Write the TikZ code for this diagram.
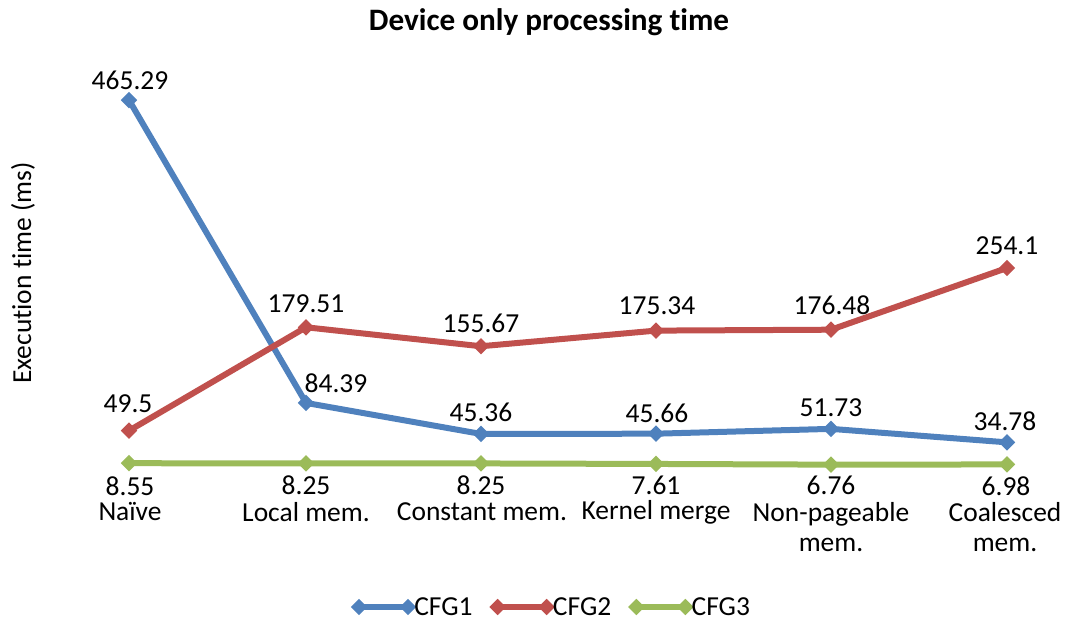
\documentclass[tikz,border=0pt]{standalone}
\usepackage{fontspec}
\setmainfont[RawFeature={-liga}]{Carlito}
\usetikzlibrary{shapes.geometric}
\definecolor{cfgblue}{HTML}{4F81BD}
\definecolor{cfgred}{HTML}{C0504D}
\definecolor{cfggreen}{HTML}{9BBB59}
\tikzset{
  series/.style={line width=4.5pt, line join=round},
  mk/.style={diamond, aspect=1, inner sep=0pt, minimum width=12.5pt, minimum height=12.5pt, fill=#1},
  lbl/.style={font=\fontsize{20.6}{22.5}\selectfont, inner sep=0pt, text=black},
  ttl/.style={font=\fontsize{23.4}{26}\selectfont\bfseries, inner sep=0pt},
}
% value -> vertical pixel position of the plot area
\newcommand{\vy}[1]{470-0.795*#1}
\begin{document}
\begin{tikzpicture}[x=0.75pt,y=-0.75pt]
\useasboundingbox (0,0) rectangle (1067,631);

% title and axis caption
\node[ttl] (title) at (549,22) {Device only processing time};
\node[lbl, rotate=90] (ylab) at (23,273) {Execution time (ms)};

% category positions
\def\xa{129}\def\xb{306}\def\xc{481}\def\xd{656}\def\xe{831}\def\xf{1007}

% CFG1
\coordinate (a1) at (\xa,{\vy{465.29}});
\coordinate (a2) at (\xb,{\vy{84.39}});
\coordinate (a3) at (\xc,{\vy{45.36}});
\coordinate (a4) at (\xd,{\vy{45.66}});
\coordinate (a5) at (\xe,{\vy{51.73}});
\coordinate (a6) at (\xf,{\vy{34.78}});
% CFG2
\coordinate (b1) at (\xa,{\vy{49.5}});
\coordinate (b2) at (\xb,{\vy{179.51}});
\coordinate (b3) at (\xc,{\vy{155.67}});
\coordinate (b4) at (\xd,{\vy{175.34}});
\coordinate (b5) at (\xe,{\vy{176.48}});
\coordinate (b6) at (\xf,{\vy{254.1}});
% CFG3
\coordinate (c1) at (\xa,{\vy{8.55}});
\coordinate (c2) at (\xb,{\vy{8.25}});
\coordinate (c3) at (\xc,{\vy{8.25}});
\coordinate (c4) at (\xd,{\vy{7.61}});
\coordinate (c5) at (\xe,{\vy{6.76}});
\coordinate (c6) at (\xf,{\vy{6.98}});

\draw[series, cfgblue] (a1) -- (a2) -- (a3) -- (a4) -- (a5) -- (a6);
\draw[series, cfgred] (b1) -- (b2) -- (b3) -- (b4) -- (b5) -- (b6);
\draw[series, cfggreen] (c1) -- (c2) -- (c3) -- (c4) -- (c5) -- (c6);

\foreach \i in {1,...,6}{
  \node[mk=cfgblue] (ma\i) at (a\i) {};
  \node[mk=cfgred] (mb\i) at (b\i) {};
  \node[mk=cfggreen] (mc\i) at (c\i) {};
}

% data labels CFG1
\node[lbl] (la1) at (130,80) {465.29};
\node[lbl] (la2) at (336,383) {84.39};
\node[lbl] (la3) at (481,412) {45.36};
\node[lbl] (la4) at (657,413) {45.66};
\node[lbl] (la5) at (831,408) {51.73};
\node[lbl] (la6) at (1005,421) {34.78};
% data labels CFG2
\node[lbl] (lb1) at (128,404) {49.5};
\node[lbl] (lb2) at (306,304) {179.51};
\node[lbl] (lb3) at (481,323) {155.67};
\node[lbl] (lb4) at (657,306) {175.34};
\node[lbl] (lb5) at (832,305) {176.48};
\node[lbl] (lb6) at (1007,246) {254.1};
% data labels CFG3
\node[lbl] (lc1) at (130,486) {8.55};
\node[lbl] (lc2) at (306,485) {8.25};
\node[lbl] (lc3) at (481,485) {8.25};
\node[lbl] (lc4) at (656,485) {7.61};
\node[lbl] (lc5) at (831,485) {6.76};
\node[lbl] (lc6) at (1006,486) {6.98};

% category axis labels
\node[lbl] (k1) at (130,512) {Naïve};
\node[lbl] (k2) at (306,512) {Local mem.};
\node[lbl] (k3) at (482,512) {Constant mem.};
\node[lbl] (k4) at (656,512) {Kernel merge};
\node[lbl, align=center] (k5) at (831,527) {Non-pageable\\mem.};
\node[lbl, align=center] (k6) at (1005,527) {Coalesced\\mem.};

% legend
\foreach \s/\c/\x in {1/cfgblue/359, 2/cfgred/497.7, 3/cfggreen/636.4}{
  \coordinate (gl\s) at (\x,607);
  \coordinate (gr\s) at ({\x+49},607);
  \draw[series, line width=4pt, \c] (gl\s) -- (gr\s);
  \node[mk=\c] (gml\s) at (gl\s) {};
  \node[mk=\c] (gmr\s) at (gr\s) {};
  \node[lbl, anchor=west] (gt\s) at ({\x+55},607) {CFG\s};
}
\end{tikzpicture}
\end{document}
